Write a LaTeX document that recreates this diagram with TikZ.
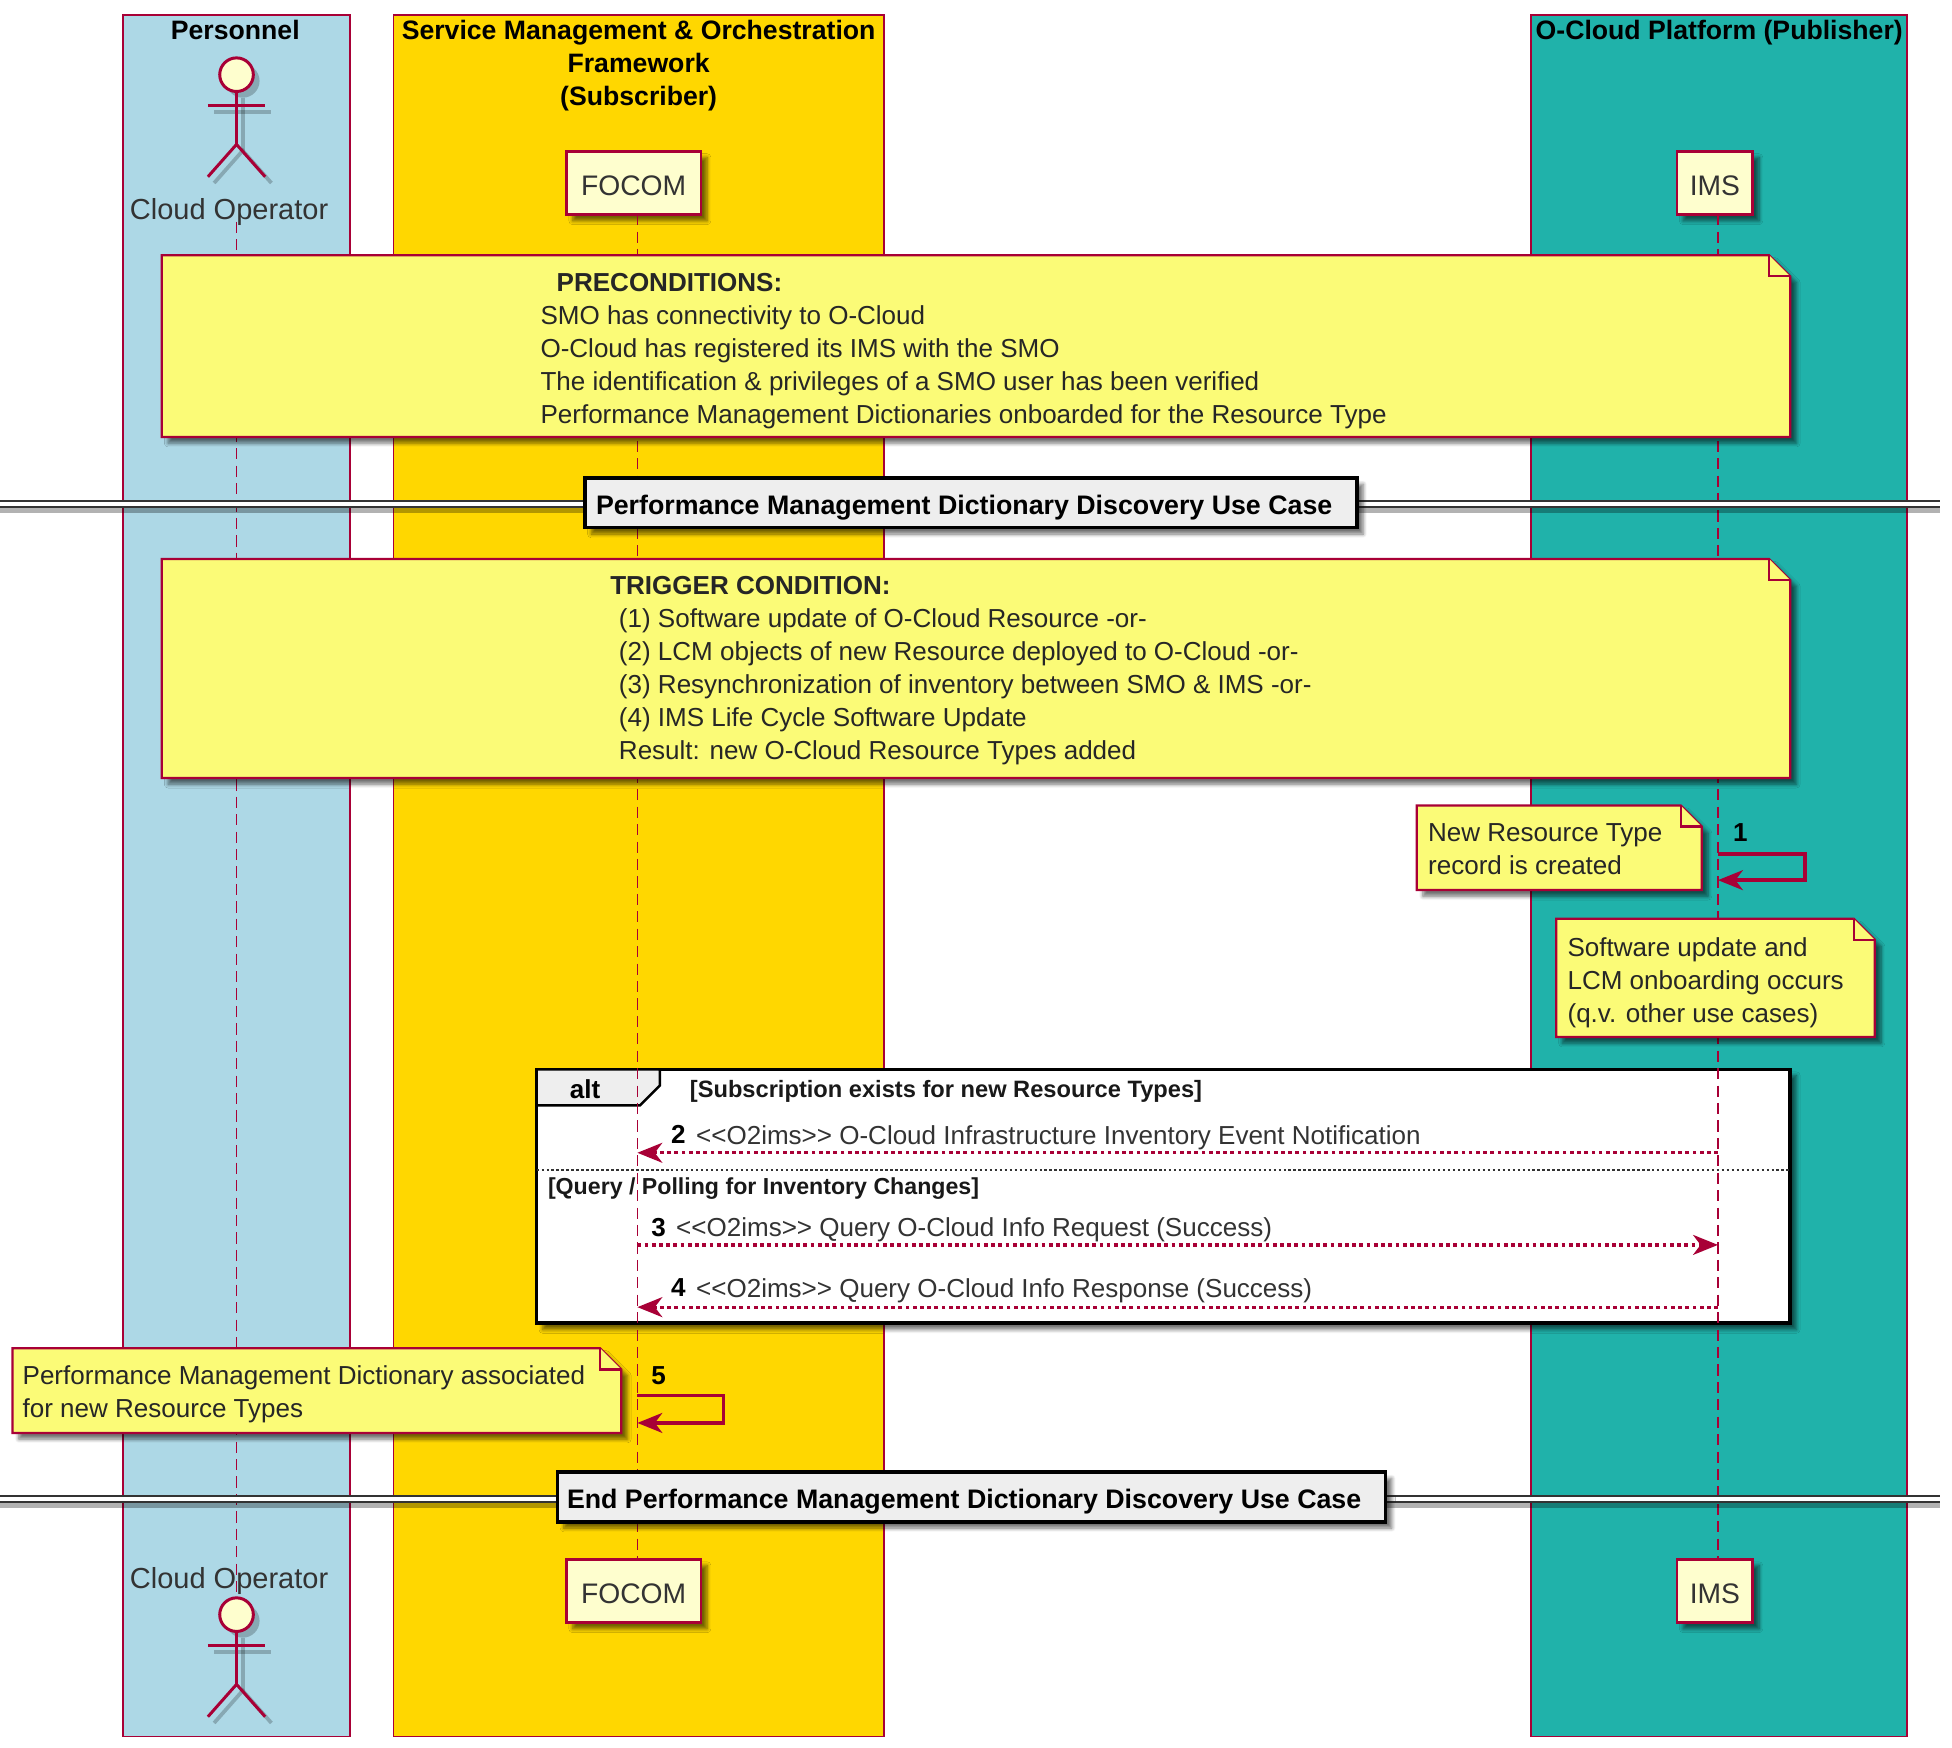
\documentclass[tikz,border=0pt]{standalone}
\usepackage{fontspec}
\setmainfont{Liberation Sans}
\usetikzlibrary{arrows.meta,shadows.blur}
\definecolor{umlred}{HTML}{A80036}
\definecolor{notefill}{HTML}{FBFB77}
\definecolor{boxfill}{HTML}{FEFECE}
\definecolor{dividerfill}{HTML}{EEEEEE}
\definecolor{bandblue}{HTML}{ADD8E6}
\definecolor{bandgold}{HTML}{FFD700}
\definecolor{bandteal}{HTML}{20B2AA}
\tikzset{
  softshadow/.style={blur shadow={shadow xshift=5pt,shadow yshift=-5pt,shadow blur radius=3pt,shadow blur steps=6,shadow opacity=55}},
  band/.style={draw=umlred,line width=1.3pt},
  bandtitle/.style={font=\fontsize{21.4}{26.5}\selectfont\bfseries,align=center,inner sep=0pt},
  lifeline/.style={draw=umlred,line width=1.3pt,dash pattern=on 9pt off 5pt},
  participant/.style={draw=umlred,fill=boxfill,line width=2.2pt,minimum height=51pt,inner sep=0pt,text height=20pt,text depth=0pt,font=\fontsize{22.7}{26}\selectfont,text=black!80,softshadow},
  actorpart/.style={draw=umlred,line width=2.4pt},
  actorshade/.style={draw=black,opacity=0.22,line width=3pt},
  actorlabel/.style={font=\fontsize{23.3}{26}\selectfont,text=black!80,inner sep=0pt},
  notepath/.style={draw=umlred,fill=notefill,line width=1.8pt},
  notetext/.style={font=\fontsize{20.9}{26.5}\selectfont,text=black!85,align=left,inner sep=0pt,anchor=north west},
  divider/.style={draw=black,fill=dividerfill,line width=2.6pt,minimum height=40pt,inner sep=0pt,text height=19pt,text depth=0pt,font=\fontsize{21.5}{26}\selectfont\bfseries,softshadow},
  doubleline/.style={draw=black!80,double=white,double distance=2.8pt,line width=2pt},
  lineshade/.style={draw=black,opacity=0.3,line width=4pt},
  msg/.style={draw=umlred,line width=2.6pt,dash pattern=on 3pt off 2.8pt,-{Stealth[length=20pt,width=16pt,inset=6pt]}},
  selfmsg/.style={draw=umlred,line width=2.8pt,-{Stealth[length=20pt,width=16pt,inset=6pt]}},
  msgno/.style={font=\fontsize{20.9}{24}\selectfont\bfseries,inner sep=0pt},
  msgtext/.style={font=\fontsize{20.9}{24}\selectfont,text=black!80,inner sep=0pt,anchor=west},
  guard/.style={font=\fontsize{19}{22}\selectfont\bfseries,text=black!90,inner sep=0pt,anchor=west},
}
% note body with the folded corner
\newcommand{\foldnote}[4]{
  \draw[notepath,softshadow] (#1,#2) -- (#3-17,#2) -- (#3,#2+17) -- (#3,#4) -- (#1,#4) -- cycle;
  \draw[notepath] (#3-17,#2) -- (#3-17,#2+17) -- (#3,#2+17);
}
% stick figure, head centre given
\newcommand{\stickman}[2]{
  \begin{scope}[shift={(5,5)}]
    \fill[black,opacity=0.22] (#1,#2) circle (13.5pt);
    \draw[actorshade] (#1-23,#2+25) -- (#1+23,#2+25);
    \draw[actorshade] (#1,#2+14) -- (#1,#2+56);
    \draw[actorshade] (#1-23,#2+82) -- (#1,#2+56) -- (#1+23,#2+82);
  \end{scope}
  \draw[actorpart,fill=boxfill] (#1,#2) circle (13.5pt);
  \draw[actorpart] (#1,#2+14) -- (#1,#2+56);
  \draw[actorpart] (#1-23,#2+25) -- (#1+23,#2+25);
  \draw[actorpart] (#1-23,#2+82) -- (#1,#2+56) -- (#1+23,#2+82);
}
\begin{document}
\begin{tikzpicture}[x=1pt,y=-1pt]
  \useasboundingbox (0,0) rectangle (1568,1404);
  % bands
  \draw[band,fill=bandblue] (99,12) rectangle (281,1395);
  \draw[band,fill=bandgold] (316,12) rectangle (710,1395);
  \draw[band,fill=bandteal] (1230,12) rectangle (1532,1395);
  \node[bandtitle] (personnel) at (189,24) {Personnel};
  \node[bandtitle,anchor=north] (smotitle) at (513,16) {Service Management \& Orchestration\\Framework\\(Subscriber)};
  \node[bandtitle] (ocloudtitle) at (1381,26) {O-Cloud Platform (Publisher)};
  % alt frame
  \draw[line width=3pt,draw=black,fill=white,softshadow] (431,859) rectangle (1438,1063);
  \draw[line width=2pt,draw=black,fill=dividerfill] (431,859) -- (530,859) -- (530,872) -- (514,888) -- (431,888) -- cycle;
  \node[font=\fontsize{20.9}{24}\selectfont\bfseries,inner sep=0pt] (altlabel) at (470,875) {alt};
  \node[guard] (guardone) at (554,877) {[Subscription exists for new Resource Types]};
  \draw[line width=1.6pt,dash pattern=on 2pt off 2pt,draw=black!80] (431,940) -- (1438,940);
  \node[guard,font=\fontsize{18.6}{22}\selectfont\bfseries] (guardtwo) at (440,955) {[Query / Polling for Inventory Changes]};
  % participants
  \stickman{190}{60}
  \stickman{190}{1297}
  \node[actorlabel] (opertop) at (184,170) {Cloud Operator};
  \node[actorlabel] (operbot) at (184,1270) {Cloud Operator};
  \node[participant,minimum width=108pt] (focomtop) at (509,147) {FOCOM};
  \node[participant,minimum width=108pt] (focombot) at (509,1278) {FOCOM};
  \node[participant,minimum width=61pt] (imstop) at (1377.5,147) {IMS};
  \node[participant,minimum width=61pt] (imsbot) at (1377.5,1278) {IMS};
  % lifelines
  \coordinate (operup) at (190,178);
  \coordinate (operdown) at (190,1283);
  \coordinate (focomup) at (512,172);
  \coordinate (focomdown) at (512,1252);
  \coordinate (imsup) at (1380,172);
  \coordinate (imsdown) at (1380,1252);
  \draw[lifeline] (operup) -- (operdown);
  \draw[lifeline] (focomup) -- (focomdown);
  \draw[lifeline] (imsup) -- (imsdown);
  % notes
  \foldnote{130}{205}{1438}{351}
  \node[notetext] (precond) at (434,219) {\hspace*{13pt}\textbf{PRECONDITIONS:}\\
    SMO has connectivity to O-Cloud\\
    O-Cloud has registered its IMS with the SMO\\
    The identification \& privileges of a SMO user has been verified\\
    Performance Management Dictionaries onboarded for the Resource Type};
  \foldnote{130}{449}{1438}{625}
  \node[notetext] (trigger) at (490,463) {\textbf{TRIGGER CONDITION:}\\
    \hspace*{7pt}(1) Software update of O-Cloud Resource -or-\\
    \hspace*{7pt}(2) LCM objects of new Resource deployed to O-Cloud -or-\\
    \hspace*{7pt}(3) Resynchronization of inventory between SMO \& IMS -or-\\
    \hspace*{7pt}(4) IMS Life Cycle Software Update\\
    \hspace*{7pt}Result: new O-Cloud Resource Types added};
  \foldnote{1138}{647}{1367}{715}
  \node[notetext] (newtype) at (1147,661) {New Resource Type\\record is created};
  \foldnote{1250}{738}{1506}{833}
  \node[notetext] (swupdate) at (1259,753) {Software update and\\LCM onboarding occurs\\(q.v. other use cases)};
  \foldnote{10}{1083}{499}{1151}
  \node[notetext] (pmdict) at (18,1097) {Performance Management Dictionary associated\\for new Resource Types};
  % dividers
  \coordinate (leftone) at (0,405);
  \coordinate (rightone) at (1558,405);
  \coordinate (lefttwo) at (0,1204);
  \coordinate (righttwo) at (1558,1204);
  \draw[lineshade] (0,410) -- (1558,410);
  \draw[lineshade] (0,1209) -- (1558,1209);
  \draw[doubleline] (leftone) -- (rightone);
  \draw[doubleline] (lefttwo) -- (righttwo);
  \node[divider,minimum width=620pt] (startcase) at (780,404) {Performance Management Dictionary Discovery Use Case\hspace*{11pt}};
  \node[divider,minimum width=665pt] (endcase) at (780.5,1202.5) {End Performance Management Dictionary Discovery Use Case\hspace*{12pt}};
  % messages
  \coordinate (ims1a) at (1380,686);
  \coordinate (ims1b) at (1450,686);
  \coordinate (ims1c) at (1450,707);
  \coordinate (ims1d) at (1380,707);
  \draw[selfmsg] (ims1a) -- (ims1b) -- (ims1c) -- (ims1d);
  \node[msgno] (nbone) at (1398,669) {1};
  \coordinate (ims2) at (1380,926);
  \coordinate (focom2) at (512,926);
  \draw[msg] (ims2) -- (focom2);
  \node[msgno] (nbtwo) at (545,911) {2};
  \node[msgtext] (txttwo) at (559,914) {<{}<O2ims>{}> O-Cloud Infrastructure Inventory Event Notification};
  \coordinate (focom3) at (512,1000);
  \coordinate (ims3) at (1380,1000);
  \draw[msg] (focom3) -- (ims3);
  \node[msgno] (nbthree) at (529,986) {3};
  \node[msgtext] (txtthree) at (543,988) {<{}<O2ims>{}> Query O-Cloud Info Request (Success)};
  \coordinate (ims4) at (1380,1050);
  \coordinate (focom4) at (512,1050);
  \draw[msg] (ims4) -- (focom4);
  \node[msgno] (nbfour) at (545,1034) {4};
  \node[msgtext] (txtfour) at (559,1037) {<{}<O2ims>{}> Query O-Cloud Info Response (Success)};
  \coordinate (focom5a) at (512,1121);
  \coordinate (focom5b) at (581,1121);
  \coordinate (focom5c) at (581,1143);
  \coordinate (focom5d) at (512,1143);
  \draw[selfmsg] (focom5a) -- (focom5b) -- (focom5c) -- (focom5d);
  \node[msgno] (nbfive) at (529,1105) {5};
\end{tikzpicture}
\end{document}
